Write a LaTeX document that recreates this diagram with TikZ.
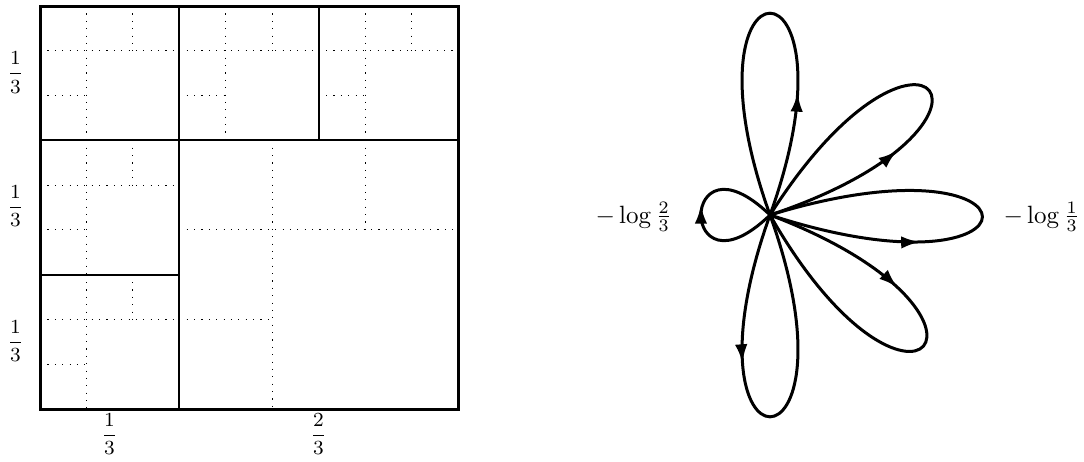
\documentclass[tikz,border=0pt]{standalone}
\usetikzlibrary{arrows.meta,decorations.markings}
\begin{document}
\begin{tikzpicture}[x=0.4pt,y=-0.4pt,
  outerline/.style={line width=1.2pt},
  innerline/.style={line width=0.8pt},
  dotline/.style={line width=0.45pt,dash pattern=on 0.45pt off 2.5pt},
  lbl/.style={inner sep=0pt,anchor=base,font=\footnotesize},
  petal/.style={line width=1.2pt,postaction={decorate},
    decoration={markings,mark=at position #1 with {\arrow{Latex[length=7.5pt,width=5pt]}}}},
  smallpetal/.style={line width=1.2pt,postaction={decorate},
    decoration={markings,mark=at position 0.5 with {\arrow[xshift=4pt]{Latex[length=7.5pt,width=5pt]}}}}]
\useasboundingbox (0,0) rectangle (1084,461);
% ---------- left square ----------
\begin{scope}[xshift=16pt,yshift=-2.4pt,x=55.733pt,y=-53.733pt]
  \foreach \a/\b/\s in {0/0/1,1/0/1,2/0/1,0/1/1,0/2/1,1/1/2}{
    \draw[dotline] ({\a+\s/3},{\b}) -- ({\a+\s/3},{\b+\s});
    \draw[dotline] ({\a},{\b+\s/3}) -- ({\a+\s},{\b+\s/3});
    \draw[dotline] ({\a+2*\s/3},{\b}) -- ({\a+2*\s/3},{\b+\s/3});
    \draw[dotline] ({\a},{\b+2*\s/3}) -- ({\a+\s/3},{\b+2*\s/3});
  }
  \draw[innerline] (1,0) -- (1,3);
  \draw[innerline] (0,1) -- (3,1);
  \draw[innerline] (2,0) -- (2,1);
  \draw[innerline] (0,2) -- (1,2);
  \draw[outerline] (0,0) rectangle (3,3);
\end{scope}
\node[lbl] (l1) at (15.5,78.5) {$\displaystyle\frac{1}{3}$};
\node[lbl] (l2) at (15.5,212) {$\displaystyle\frac{1}{3}$};
\node[lbl] (l3) at (15.5,347) {$\displaystyle\frac{1}{3}$};
\node[lbl] (b1) at (109.5,440) {$\displaystyle\frac{1}{3}$};
\node[lbl] (b2) at (318.5,440) {$\displaystyle\frac{2}{3}$};
% ---------- flower ----------
\coordinate (c) at (770,215);
\begin{scope}[shift={(c)},x=0.4pt,y=0.4pt]
  \coordinate (o) at (0,0);
  % petal up (ccw)
  \draw[petal=0.29] (o) .. controls (70.2:286) and (109.8:286) .. (o);
  % petal upper right (ccw)
  \draw[petal=0.33] (o) .. controls (18.4:286) and (57.6:286) .. (o);
  % petal right (ccw)
  \draw[petal=0.34] (o) .. controls (-18:297) and (17:297) .. (o);
  % petal lower right (cw)
  \draw[petal=0.34] (o) .. controls (-20.7:286) and (-60.3:286) .. (o);
  % petal down (ccw)
  \draw[petal=0.35] (o) .. controls (-109.8:286) and (-70.2:286) .. (o);
  % small petal left (cw)
  \draw[smallpetal] (o) .. controls (224:128) and (136:128) .. (o);
\end{scope}
\node[inner sep=0pt,anchor=base west] (ll) at (595,223) {$-\log\frac{2}{3}$};
\node[inner sep=0pt,anchor=base west] (rl) at (1003,223) {$-\log\frac{1}{3}$};
\end{tikzpicture}
\end{document}
